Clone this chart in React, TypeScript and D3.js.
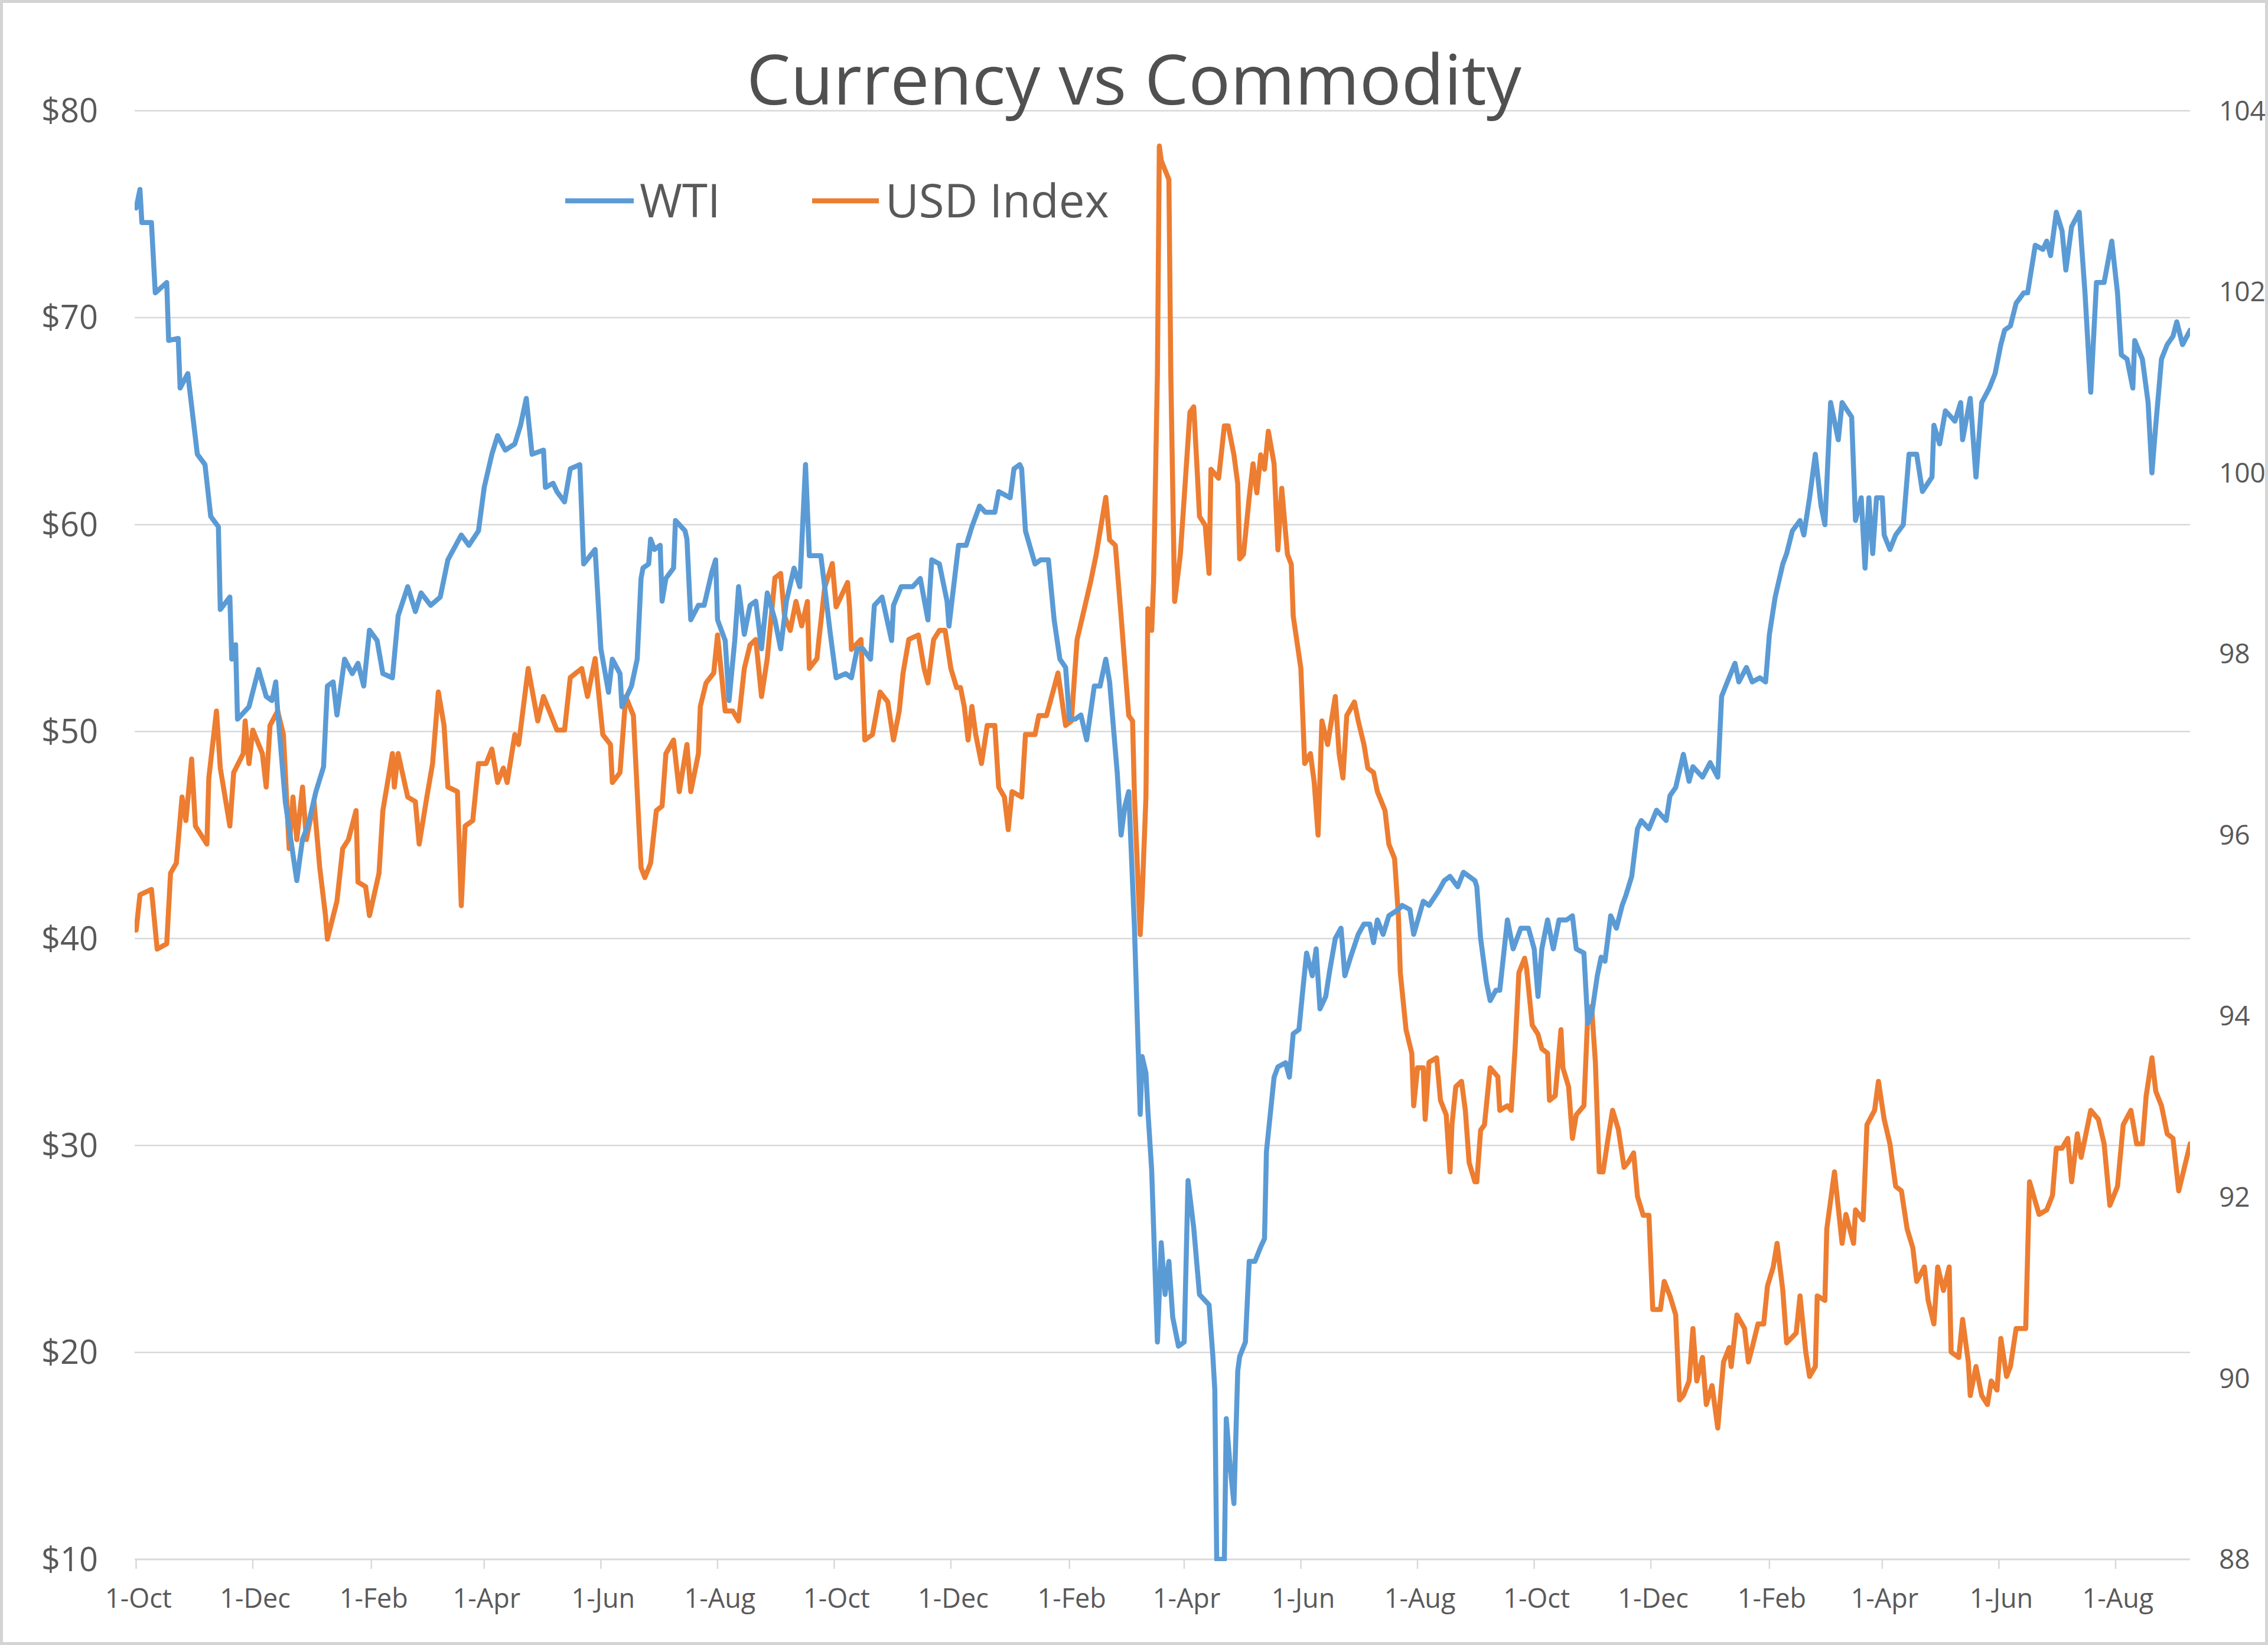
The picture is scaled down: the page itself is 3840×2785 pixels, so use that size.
import React from "react";
import * as d3 from "d3";

// Series are daily closes, stored as [days since 1-Oct-2018, value]
const startDate = "2018-10-01";

const seriesNames = ["WTI", "USD Index"];

const wtiData: [number, number][] = [
  [0, 75.3], [2, 76.2], [3, 74.6], [8, 74.6], [10, 71.2], [16, 71.7], [17, 68.9], [22, 69.0], [23, 66.6], [27, 67.3],
  [32, 63.4], [36, 62.9], [39, 60.4], [43, 59.9], [44, 55.9], [49, 56.5], [50, 53.5], [52, 54.2], [53, 50.6], [59, 51.2],
  [64, 53.0], [68, 51.7], [71, 51.5], [73, 52.4], [74, 51.0], [78, 46.6], [84, 42.8], [87, 44.8], [90, 45.5], [94, 47.1],
  [98, 48.3], [100, 52.2], [103, 52.4], [105, 50.8], [109, 53.5], [113, 52.8], [116, 53.3], [119, 52.2], [122, 54.9], [126, 54.4],
  [129, 52.8], [134, 52.6], [137, 55.6], [142, 57.0], [146, 55.8], [149, 56.7], [154, 56.1], [159, 56.5], [163, 58.3], [170, 59.5],
  [174, 59.0], [179, 59.7], [182, 61.8], [186, 63.4], [189, 64.3], [193, 63.6], [198, 63.9], [201, 64.8], [204, 66.1], [207, 63.4],
  [213, 63.6], [214, 61.8], [218, 62.0], [220, 61.6], [224, 61.1], [227, 62.7], [232, 62.9], [234, 58.1], [240, 58.8], [243, 54.0],
  [247, 51.9], [249, 53.5], [253, 52.8], [254, 51.2], [259, 52.2], [262, 53.5], [264, 57.4], [265, 57.9], [268, 58.1], [269, 59.3],
  [271, 58.8], [274, 59.0], [275, 56.3], [277, 57.4], [281, 57.9], [282, 60.2], [287, 59.7], [288, 59.3], [290, 55.4], [294, 56.1],
  [297, 56.1], [301, 57.7], [303, 58.3], [304, 55.4], [308, 54.4], [310, 51.5], [313, 54.4], [315, 57.0], [318, 54.7], [321, 56.1],
  [324, 56.3], [327, 54.0], [330, 56.7], [334, 55.4], [337, 54.0], [340, 56.3], [344, 57.9], [347, 57.0], [350, 62.9], [352, 58.5],
  [358, 58.5], [360, 57.0], [363, 54.7], [366, 52.6], [371, 52.8], [374, 52.6], [377, 54.0], [380, 54.0], [384, 53.5], [386, 56.1],
  [390, 56.5], [395, 54.4], [396, 56.1], [400, 57.0], [406, 57.0], [410, 57.4], [414, 55.4], [416, 58.3], [420, 58.1], [424, 56.3],
  [425, 55.1], [430, 59.0], [434, 59.0], [437, 59.9], [441, 60.9], [444, 60.6], [449, 60.6], [451, 61.6], [457, 61.3], [459, 62.7],
  [462, 62.9], [463, 62.7], [465, 59.7], [470, 58.1], [473, 58.3], [477, 58.3], [480, 55.4], [483, 53.5], [486, 53.1], [488, 50.6],
  [491, 50.6], [494, 50.8], [497, 49.6], [501, 52.2], [504, 52.2], [507, 53.5], [509, 52.4], [513, 48.0], [515, 45.0], [517, 46.4],
  [519, 47.1], [522, 40.5], [525, 31.5], [526, 34.3], [528, 33.5], [529, 31.7], [531, 28.8], [534, 20.5], [536, 25.3], [538, 22.8],
  [540, 24.4], [542, 21.7], [545, 20.3], [548, 20.5], [550, 28.3], [553, 26.0], [556, 22.8], [558, 22.6], [561, 22.3], [563, 19.8],
  [564, 18.2], [565, 10.0], [569, 10.0], [570, 16.8], [572, 14.5], [574, 12.7], [576, 19.1], [577, 19.8], [580, 20.5], [582, 24.4],
  [585, 24.4], [588, 25.1], [590, 25.5], [591, 29.7], [595, 33.3], [597, 33.8], [601, 34.0], [603, 33.3], [605, 35.4], [608, 35.6],
  [610, 37.5], [612, 39.3], [615, 38.2], [617, 39.5], [619, 36.6], [622, 37.2], [624, 38.4], [627, 40.0], [630, 40.5], [632, 38.2],
  [635, 39.1], [639, 40.2], [642, 40.7], [645, 40.7], [647, 39.8], [649, 40.9], [652, 40.2], [655, 41.1], [660, 41.4], [662, 41.6],
  [666, 41.4], [668, 40.2], [673, 41.8], [676, 41.6], [681, 42.3], [684, 42.8], [687, 43.0], [691, 42.5], [694, 43.2], [700, 42.8],
  [701, 42.5], [703, 40.0], [706, 37.9], [708, 37.0], [711, 37.5], [713, 37.5], [717, 40.9], [720, 39.5], [724, 40.5], [728, 40.5],
  [731, 39.5], [733, 37.2], [735, 39.5], [738, 40.9], [741, 39.5], [744, 40.9], [748, 40.9], [751, 41.1], [753, 39.5], [757, 39.3],
  [759, 35.9], [761, 36.3], [764, 38.2], [766, 39.1], [768, 38.9], [771, 41.1], [774, 40.5], [777, 41.6], [779, 42.1], [782, 43.0],
  [785, 45.3], [787, 45.7], [791, 45.3], [795, 46.2], [800, 45.7], [802, 46.9], [805, 47.3], [809, 48.9], [812, 47.6], [814, 48.3],
  [819, 47.8], [823, 48.5], [827, 47.8], [829, 51.7], [832, 52.4], [836, 53.3], [838, 52.4], [842, 53.1], [845, 52.4], [849, 52.6],
  [852, 52.4], [854, 54.7], [857, 56.5], [861, 58.1], [863, 58.6], [866, 59.7], [870, 60.2], [872, 59.5], [875, 61.3], [878, 63.4],
  [881, 60.9], [883, 60.0], [886, 65.9], [890, 64.1], [892, 65.9], [897, 65.2], [899, 60.2], [902, 61.3], [904, 57.9], [906, 61.3],
  [908, 58.6], [910, 61.3], [913, 61.3], [914, 59.5], [917, 58.8], [920, 59.5], [924, 60.0], [927, 63.4], [931, 63.4], [934, 61.6],
  [939, 62.3], [940, 64.8], [943, 63.9], [946, 65.5], [951, 65.0], [954, 65.9], [955, 64.1], [959, 66.1], [962, 62.3], [965, 65.9],
  [969, 66.6], [972, 67.3], [975, 68.7], [977, 69.4], [980, 69.6], [983, 70.7], [987, 71.2], [989, 71.2], [993, 73.5], [997, 73.3],
  [999, 73.7], [1001, 73.0], [1004, 75.1], [1007, 74.2], [1009, 72.3], [1012, 74.4], [1016, 75.1], [1019, 71.2], [1022, 66.4], [1025, 71.7],
  [1029, 71.7], [1033, 73.7], [1036, 71.2], [1038, 68.2], [1041, 68.0], [1044, 66.6], [1045, 68.9], [1049, 68.0], [1052, 65.9], [1054, 62.5],
  [1056, 64.8], [1059, 68.0], [1062, 68.7], [1065, 69.1], [1067, 69.8], [1070, 68.7], [1074, 69.4],
];

const usdData: [number, number][] = [
  [0, 94.95], [2, 95.34], [8, 95.4], [11, 94.74], [16, 94.8], [18, 95.58], [21, 95.69], [24, 96.42], [26, 96.16], [29, 96.84],
  [31, 96.1], [37, 95.9], [38, 96.63], [42, 97.37], [44, 96.74], [49, 96.1], [51, 96.69], [56, 96.9], [57, 97.26], [59, 96.79],
  [61, 97.16], [66, 96.9], [68, 96.53], [70, 97.21], [74, 97.37], [77, 97.11], [80, 95.85], [82, 96.42], [84, 95.95], [87, 96.53],
  [89, 95.95], [93, 96.37], [96, 95.64], [99, 95.11], [100, 94.85], [105, 95.27], [108, 95.85], [111, 95.95], [115, 96.27], [116, 95.48],
  [120, 95.43], [122, 95.11], [127, 95.58], [129, 96.27], [134, 96.9], [135, 96.53], [137, 96.9], [142, 96.42], [146, 96.37], [148, 95.9],
  [152, 96.42], [155, 96.79], [158, 97.58], [161, 97.21], [163, 96.53], [168, 96.48], [170, 95.22], [172, 96.1], [176, 96.16], [179, 96.79],
  [183, 96.79], [186, 96.95], [189, 96.58], [192, 96.74], [194, 96.58], [198, 97.11], [200, 97.0], [205, 97.84], [210, 97.26], [213, 97.53],
  [217, 97.32], [220, 97.16], [224, 97.16], [227, 97.74], [230, 97.79], [233, 97.84], [236, 97.53], [240, 97.95], [244, 97.11], [248, 97.0],
  [249, 96.58], [253, 96.69], [256, 97.53], [260, 97.32], [264, 95.64], [266, 95.53], [269, 95.69], [272, 96.27], [275, 96.32], [277, 96.9],
  [281, 97.05], [284, 96.48], [288, 97.0], [290, 96.48], [294, 96.9], [295, 97.42], [298, 97.68], [302, 97.79], [304, 98.21], [308, 97.37],
  [312, 97.37], [315, 97.26], [318, 97.84], [321, 98.1], [324, 98.16], [327, 97.53], [330, 97.95], [334, 98.84], [337, 98.89], [339, 98.42],
  [342, 98.26], [345, 98.58], [348, 98.31], [351, 98.58], [352, 97.84], [356, 97.95], [357, 98.16], [360, 98.73], [364, 99.0], [366, 98.52],
  [372, 98.79], [373, 98.52], [374, 98.05], [379, 98.16], [381, 97.05], [385, 97.11], [389, 97.58], [393, 97.47], [396, 97.05], [399, 97.37],
  [401, 97.79], [404, 98.16], [409, 98.21], [412, 97.84], [414, 97.68], [417, 98.16], [420, 98.26], [423, 98.26], [426, 97.84], [429, 97.63],
  [431, 97.63], [433, 97.42], [435, 97.05], [437, 97.42], [439, 97.11], [442, 96.79], [445, 97.21], [449, 97.21], [451, 96.53], [454, 96.42],
  [456, 96.06], [458, 96.48], [463, 96.42], [465, 97.11], [470, 97.11], [472, 97.32], [476, 97.32], [480, 97.63], [482, 97.79], [486, 97.21],
  [489, 97.26], [492, 98.16], [496, 98.52], [499, 98.79], [502, 99.1], [507, 99.73], [509, 99.26], [512, 99.2], [515, 98.42], [519, 97.32],
  [521, 97.26], [522, 96.42], [525, 94.9], [526, 95.32], [528, 96.42], [529, 98.5], [531, 98.26], [532, 98.8], [534, 101.1], [535, 103.61],
  [536, 103.45], [540, 103.24], [541, 101.09], [543, 98.58], [546, 99.1], [549, 100.04], [551, 100.67], [553, 100.73], [555, 99.94], [556, 99.52],
  [559, 99.42], [561, 98.89], [562, 100.04], [564, 99.99], [566, 99.94], [569, 100.52], [571, 100.52], [574, 100.2], [576, 99.88], [577, 99.05],
  [579, 99.1], [582, 99.73], [584, 100.1], [586, 99.78], [588, 100.2], [590, 100.04], [592, 100.46], [595, 100.1], [597, 99.15], [599, 99.83],
  [602, 99.1], [604, 98.99], [605, 98.42], [609, 97.84], [611, 96.79], [614, 96.9], [616, 96.58], [618, 96.0], [620, 97.26], [623, 97.0],
  [627, 97.53], [629, 96.9], [631, 96.63], [633, 97.32], [637, 97.47], [639, 97.26], [642, 97.0], [644, 96.74], [647, 96.69], [649, 96.48],
  [653, 96.27], [655, 95.9], [658, 95.74], [660, 95.11], [661, 94.48], [664, 93.85], [667, 93.59], [668, 93.01], [670, 93.43], [673, 93.43],
  [674, 92.86], [676, 93.49], [680, 93.54], [682, 93.07], [685, 92.91], [687, 92.28], [688, 92.8], [690, 93.22], [693, 93.28], [695, 92.96],
  [697, 92.38], [700, 92.17], [701, 92.17], [703, 92.74], [705, 92.8], [708, 93.43], [712, 93.33], [713, 92.96], [717, 93.01], [719, 92.96],
  [721, 93.64], [723, 94.48], [726, 94.64], [727, 94.53], [730, 93.9], [733, 93.8], [735, 93.64], [738, 93.59], [739, 93.07], [742, 93.12],
  [745, 93.85], [746, 93.43], [749, 93.22], [751, 92.65], [753, 92.91], [757, 93.01], [759, 94.01], [761, 94.11], [763, 93.49], [765, 92.28],
  [767, 92.28], [770, 92.7], [772, 92.96], [775, 92.75], [778, 92.33], [780, 92.38], [783, 92.49], [785, 92.01], [788, 91.8], [791, 91.8],
  [793, 90.76], [797, 90.76], [799, 91.07], [802, 90.91], [805, 90.7], [807, 89.76], [809, 89.81], [812, 89.97], [814, 90.55], [816, 89.97],
  [819, 90.23], [821, 89.71], [824, 89.92], [827, 89.45], [830, 90.18], [833, 90.34], [834, 90.13], [837, 90.7], [841, 90.55], [843, 90.18],
  [845, 90.34], [848, 90.6], [851, 90.6], [853, 91.02], [856, 91.23], [858, 91.49], [861, 90.97], [863, 90.39], [868, 90.5], [870, 90.91],
  [873, 90.29], [875, 90.02], [878, 90.13], [879, 90.91], [883, 90.86], [884, 91.65], [888, 92.28], [892, 91.49], [894, 91.81], [898, 91.49],
  [899, 91.86], [903, 91.75], [905, 92.8], [909, 92.96], [911, 93.28], [914, 92.86], [917, 92.59], [920, 92.12], [923, 92.07], [926, 91.65],
  [929, 91.44], [931, 91.07], [935, 91.23], [937, 90.86], [940, 90.6], [942, 91.23], [945, 90.97], [948, 91.23], [949, 90.29], [953, 90.23],
  [955, 90.65], [958, 90.18], [959, 89.81], [962, 90.13], [965, 89.81], [968, 89.71], [970, 89.97], [973, 89.87], [975, 90.44], [978, 90.02],
  [980, 90.13], [983, 90.55], [988, 90.55], [990, 92.17], [995, 91.81], [999, 91.86], [1002, 92.02], [1004, 92.54], [1007, 92.54], [1010, 92.65],
  [1012, 92.17], [1015, 92.7], [1017, 92.44], [1022, 92.96], [1026, 92.86], [1029, 92.59], [1032, 91.91], [1036, 92.12], [1039, 92.8], [1043, 92.96],
  [1046, 92.59], [1049, 92.59], [1051, 93.12], [1054, 93.54], [1056, 93.17], [1059, 93.01], [1062, 92.7], [1065, 92.65], [1068, 92.07], [1071, 92.33],
  [1074, 92.59],
];

const leftTicks = [10, 20, 30, 40, 50, 60, 70, 80];
const rightTicks = [88, 90, 92, 94, 96, 98, 100, 102, 104];
const xDomain = ["2018-10-01", "2021-09-08"];
const xTickStepMonths = 2;

const W = 3840;
const H = 2785;
const BLUE = "#5B9BD5";
const ORANGE = "#ED7D31";
const GRID = "#d9d9d9";
const TEXT = "#595959";
const FONT = "'Open Sans', 'Noto Sans', sans-serif";

export default function App() {
  const plotL = 228;
  const plotR = 3708;
  const top = 187.5;
  const bottom = 2640;

  const base = d3.utcParse("%Y-%m-%d")(startDate)!;
  const toDate = (d: number) => d3.utcDay.offset(base, d);
  const parse = d3.utcParse("%Y-%m-%d");

  const x = d3
    .scaleUtc()
    .domain([parse(xDomain[0])!, parse(xDomain[1])!])
    .range([230.5, 3705]);
  const yL = d3.scaleLinear().domain([10, 80]).range([bottom, top]);
  const yR = d3.scaleLinear().domain([88, 104]).range([bottom, top]);

  const wtiLine = d3
    .line<[number, number]>()
    .x((d) => x(toDate(d[0])))
    .y((d) => yL(d[1]));
  const usdLine = d3
    .line<[number, number]>()
    .x((d) => x(toDate(d[0])))
    .y((d) => yR(d[1]));

  const xTicks = d3.utcMonth.range(parse(xDomain[0])!, parse(xDomain[1])!, xTickStepMonths);
  const fmt = d3.utcFormat("%-d-%b");

  return (
    <svg
      width={W}
      height={H}
      viewBox={`0 0 ${W} ${H}`}
      style={{ position: "absolute", left: 0, top: 0, background: "#fff" }}
    >
      <defs>
        <clipPath id="plotClip">
          <rect x={plotL} y={top - 40} width={plotR - plotL} height={bottom - top + 43} />
        </clipPath>
      </defs>
      <rect x={0} y={0} width={W} height={H} fill="#fff" />
      <rect x={2.5} y={2.5} width={W - 5} height={H - 5} fill="none" stroke="#d4d4d4" strokeWidth={5} />

      {/* gridlines */}
      {leftTicks.map((t) => (
        <line key={"g" + t} x1={plotL} x2={plotR} y1={yL(t)} y2={yL(t)} stroke={GRID} strokeWidth={t === 10 ? 3 : 2.5} />
      ))}
      {/* x ticks */}
      {xTicks.map((d, i) => (
        <line key={"xt" + i} x1={x(d)} x2={x(d)} y1={bottom} y2={bottom + 16} stroke={GRID} strokeWidth={2.5} />
      ))}

      {/* title */}
      <text x={1920} y={177} textAnchor="middle" fontFamily={FONT} fontSize={118} fill="#505050">
        Currency vs Commodity
      </text>

      {/* left axis labels */}
      {leftTicks.map((t) => (
        <text key={"l" + t} x={166} y={yL(t)} dy="0.35em" textAnchor="end" fontFamily={FONT} fontSize={56} fill={TEXT}>
          {"$" + t}
        </text>
      ))}
      {/* right axis labels */}
      {rightTicks.map((t) => (
        <text key={"r" + t} x={3757} y={yR(t)} dy="0.35em" textAnchor="start" fontFamily={FONT} fontSize={46} fill={TEXT}>
          {t}
        </text>
      ))}
      {/* x labels */}
      {xTicks.map((d, i) => (
        <text key={"xl" + i} x={x(d) + 4} y={2722} textAnchor="middle" fontFamily={FONT} fontSize={45} fill={TEXT}>
          {fmt(d)}
        </text>
      ))}

      {/* series */}
      <g clipPath="url(#plotClip)">
        <path d={usdLine(usdData) || ""} fill="none" stroke={ORANGE} strokeWidth={8.5} strokeLinejoin="round" strokeLinecap="round" />
        <path d={wtiLine(wtiData) || ""} fill="none" stroke={BLUE} strokeWidth={8.5} strokeLinejoin="round" strokeLinecap="round" />
      </g>

      {/* legend */}
      <line x1={957} x2={1073} y1={340} y2={340} stroke={BLUE} strokeWidth={8.5} />
      <text x={1083} y={368} fontFamily={FONT} fontSize={78} fill={TEXT}>
        {seriesNames[0]}
      </text>
      <line x1={1375} x2={1488} y1={340} y2={340} stroke={ORANGE} strokeWidth={8.5} />
      <text x={1499} y={368} fontFamily={FONT} fontSize={78} fill={TEXT}>
        {seriesNames[1]}
      </text>
    </svg>
  );
}
